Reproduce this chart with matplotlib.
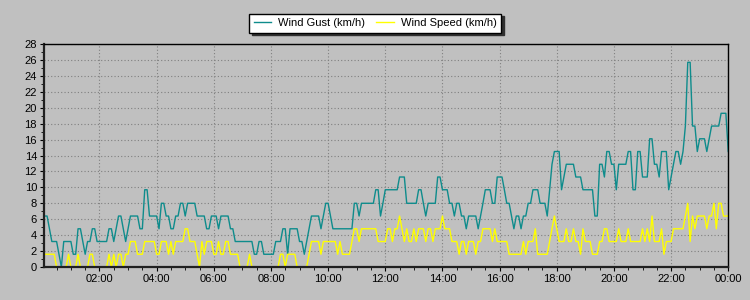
import matplotlib
matplotlib.use('Agg')
import matplotlib.pyplot as plt
import matplotlib.dates as mdates
import pandas as pd

plt.rcParams['font.family'] = ['Liberation Sans', 'DejaVu Sans']

# 5 minute readings, 00:05 .. 00:00 next day (km/h)
wind_gust = [
    6.4, 6.4, 4.8, 3.2, 3.2, 3.2, 1.6, 0, 3.2, 3.2, 3.2, 3.2,
    1.6, 1.6, 4.8, 4.8, 3.2, 1.6, 3.2, 3.2, 4.8, 4.8, 3.2, 3.2,
    3.2, 3.2, 3.2, 4.8, 4.8, 3.2, 4.8, 6.4, 6.4, 4.8, 3.2, 4.8,
    6.4, 6.4, 6.4, 6.4, 4.8, 4.8, 9.7, 9.7, 6.4, 6.4, 6.4, 6.4,
    4.8, 8.0, 8.0, 6.4, 6.4, 4.8, 4.8, 6.4, 6.4, 8.0, 8.0, 6.4,
    8.0, 8.0, 8.0, 8.0, 6.4, 6.4, 6.4, 6.4, 4.8, 4.8, 6.4, 6.4,
    6.4, 4.8, 6.4, 6.4, 6.4, 6.4, 4.8, 4.8, 3.2, 3.2, 3.2, 3.2,
    3.2, 3.2, 3.2, 3.2, 1.6, 1.6, 3.2, 3.2, 1.6, 1.6, 1.6, 1.6,
    1.6, 3.2, 3.2, 3.2, 4.8, 4.8, 1.6, 4.8, 4.8, 4.8, 4.8, 3.2,
    3.2, 1.6, 3.2, 4.8, 6.4, 6.4, 6.4, 6.4, 4.8, 6.4, 8.0, 8.0,
    6.4, 4.8, 4.8, 4.8, 4.8, 4.8, 4.8, 4.8, 4.8, 4.8, 8.0, 8.0,
    6.4, 8.0, 8.0, 8.0, 8.0, 8.0, 8.0, 9.7, 9.7, 6.4, 8.0, 9.7,
    9.7, 9.7, 9.7, 9.7, 9.7, 11.3, 11.3, 11.3, 8.0, 8.0, 8.0, 8.0,
    8.0, 9.7, 9.7, 8.0, 6.4, 8.0, 8.0, 8.0, 8.0, 11.3, 11.3, 9.7,
    9.7, 9.7, 8.0, 8.0, 6.4, 8.0, 8.0, 6.4, 6.4, 4.8, 6.4, 6.4,
    6.4, 6.4, 4.8, 6.4, 8.0, 9.7, 9.7, 9.7, 8.0, 8.0, 11.3, 11.3,
    11.3, 9.7, 8.0, 8.0, 6.4, 4.8, 6.4, 6.4, 4.8, 6.4, 6.4, 8.0,
    8.0, 9.7, 9.7, 9.7, 8.0, 8.0, 8.0, 6.4, 9.7, 12.9, 14.5, 14.5,
    14.5, 9.7, 11.3, 12.9, 12.9, 12.9, 12.9, 11.3, 11.3, 11.3, 9.7, 9.7,
    9.7, 9.7, 9.7, 6.4, 6.4, 12.9, 12.9, 11.3, 14.5, 14.5, 12.9, 12.9,
    9.7, 12.9, 12.9, 12.9, 12.9, 14.5, 14.5, 9.7, 9.7, 14.5, 14.5, 11.3,
    11.3, 11.3, 16.1, 16.1, 12.9, 12.9, 11.3, 14.5, 14.5, 14.5, 9.7, 11.3,
    12.9, 14.5, 14.5, 12.9, 14.5, 17.7, 25.7, 25.7, 17.7, 17.7, 14.5, 16.1,
    16.1, 16.1, 14.5, 16.1, 17.7, 17.7, 17.7, 17.7, 19.3, 19.3, 19.3, 14.5,
]
wind_speed = [
    1.6, 1.6, 1.6, 1.6, 1.6, 0, 0, 0, 0, 0, 1.6, 0,
    0, 0, 1.6, 0, 0, 0, 0, 1.6, 1.6, 0, 0, 0,
    0, 0, 0, 1.6, 0, 1.6, 0, 1.6, 1.6, 0, 1.6, 1.6,
    3.2, 3.2, 3.2, 1.6, 1.6, 1.6, 3.2, 3.2, 3.2, 3.2, 3.2, 1.6,
    1.6, 3.2, 3.2, 3.2, 1.6, 3.2, 1.6, 3.2, 3.2, 3.2, 3.2, 4.8,
    4.8, 3.2, 3.2, 3.2, 1.6, 0, 3.2, 1.6, 3.2, 3.2, 3.2, 1.6,
    1.6, 3.2, 1.6, 1.6, 3.2, 3.2, 1.6, 1.6, 1.6, 1.6, 0, 0,
    0, 0, 1.6, 0, 0, 0, 0, 0, 0, 0, 0, 0,
    0, 0, 0, 1.6, 1.6, 0, 1.6, 1.6, 1.6, 1.6, 0, 0,
    0, 0, 0, 1.6, 3.2, 3.2, 3.2, 3.2, 1.6, 3.2, 3.2, 3.2,
    3.2, 3.2, 3.2, 1.6, 3.2, 1.6, 1.6, 1.6, 1.6, 3.2, 4.8, 4.8,
    3.2, 4.8, 4.8, 4.8, 4.8, 4.8, 4.8, 4.8, 3.2, 3.2, 3.2, 3.2,
    4.8, 4.8, 3.2, 4.8, 4.8, 6.4, 4.8, 3.2, 4.8, 3.2, 3.2, 4.8,
    3.2, 4.8, 4.8, 4.8, 3.2, 4.8, 4.8, 3.2, 4.8, 4.8, 4.8, 6.4,
    4.8, 4.8, 4.8, 3.2, 3.2, 3.2, 1.6, 3.2, 3.2, 1.6, 3.2, 3.2,
    3.2, 1.6, 3.2, 3.2, 4.8, 4.8, 4.8, 4.8, 3.2, 4.8, 3.2, 3.2,
    3.2, 3.2, 3.2, 1.6, 1.6, 1.6, 1.6, 1.6, 1.6, 3.2, 1.6, 3.2,
    3.2, 3.2, 4.8, 1.6, 1.6, 1.6, 1.6, 1.6, 3.2, 4.8, 6.4, 4.8,
    3.2, 3.2, 3.2, 4.8, 3.2, 3.2, 4.8, 3.2, 3.2, 1.6, 4.8, 3.2,
    3.2, 3.2, 1.6, 1.6, 1.6, 3.2, 3.2, 4.8, 4.8, 3.2, 3.2, 3.2,
    3.2, 4.8, 3.2, 3.2, 3.2, 4.8, 3.2, 3.2, 3.2, 3.2, 3.2, 4.8,
    3.2, 4.8, 3.2, 6.4, 3.2, 3.2, 3.2, 4.8, 1.6, 3.2, 3.2, 3.2,
    4.8, 4.8, 4.8, 4.8, 4.8, 6.4, 8.0, 3.2, 6.4, 4.8, 6.4, 6.4,
    6.4, 6.4, 4.8, 6.4, 6.4, 8.0, 4.8, 8.0, 8.0, 6.4, 6.4, 6.4,
]
labels = ['Wind Gust (km/h)', 'Wind Speed (km/h)']
colors = ['#0e8c8c', '#ffff00']

times = pd.date_range('2024-01-01 00:05', periods=len(wind_gust), freq='5min')

bg = '#c0c0c0'
fig = plt.figure(figsize=(7.5, 3), dpi=100, facecolor=bg)
ax = fig.add_axes([0.0587, 0.11, 0.9123, 0.7433], facecolor=bg)

ax.plot(times, wind_gust, color=colors[0], lw=1.0, label=labels[0])
ax.plot(times, wind_speed, color=colors[1], lw=1.0, label=labels[1])

ax.set_xlim(pd.Timestamp('2024-01-01 00:03:36'), pd.Timestamp('2024-01-02 00:00'))
ax.set_ylim(0, 28)
ax.yaxis.set_major_locator(plt.MultipleLocator(2))
ax.yaxis.set_minor_locator(plt.MultipleLocator(1))
ax.xaxis.set_major_locator(mdates.HourLocator(byhour=range(0, 24, 2)))
ax.xaxis.set_minor_locator(mdates.MinuteLocator(byminute=[0, 30]))
ax.xaxis.set_major_formatter(mdates.DateFormatter('%H:%M'))

ax.grid(True, which='major', color='#808080', ls=(0, (1, 2)), lw=0.8)
ax.tick_params(which='major', length=3, labelsize=8, colors='black', pad=2)
ax.tick_params(which='minor', length=2)
for side in ['left', 'bottom']:
    ax.spines[side].set_linewidth(1.6)
    ax.spines[side].set_color('#202020')
for side in ['top', 'right']:
    ax.spines[side].set_linewidth(1.0)
    ax.spines[side].set_color('black')

leg = ax.legend(loc='center', bbox_to_anchor=(0.5, 0.923), bbox_transform=fig.transFigure,
                ncol=2, fontsize=8, frameon=True, fancybox=False, handlelength=1.6,
                columnspacing=1.0, borderpad=0.4, handletextpad=0.6,
                shadow={'color': '#303030', 'alpha': 1})
leg.get_frame().set_edgecolor('black')
leg.get_frame().set_linewidth(1.0)
leg.get_frame().set_alpha(1)

fig.savefig('out.png', dpi=100, facecolor=bg)
